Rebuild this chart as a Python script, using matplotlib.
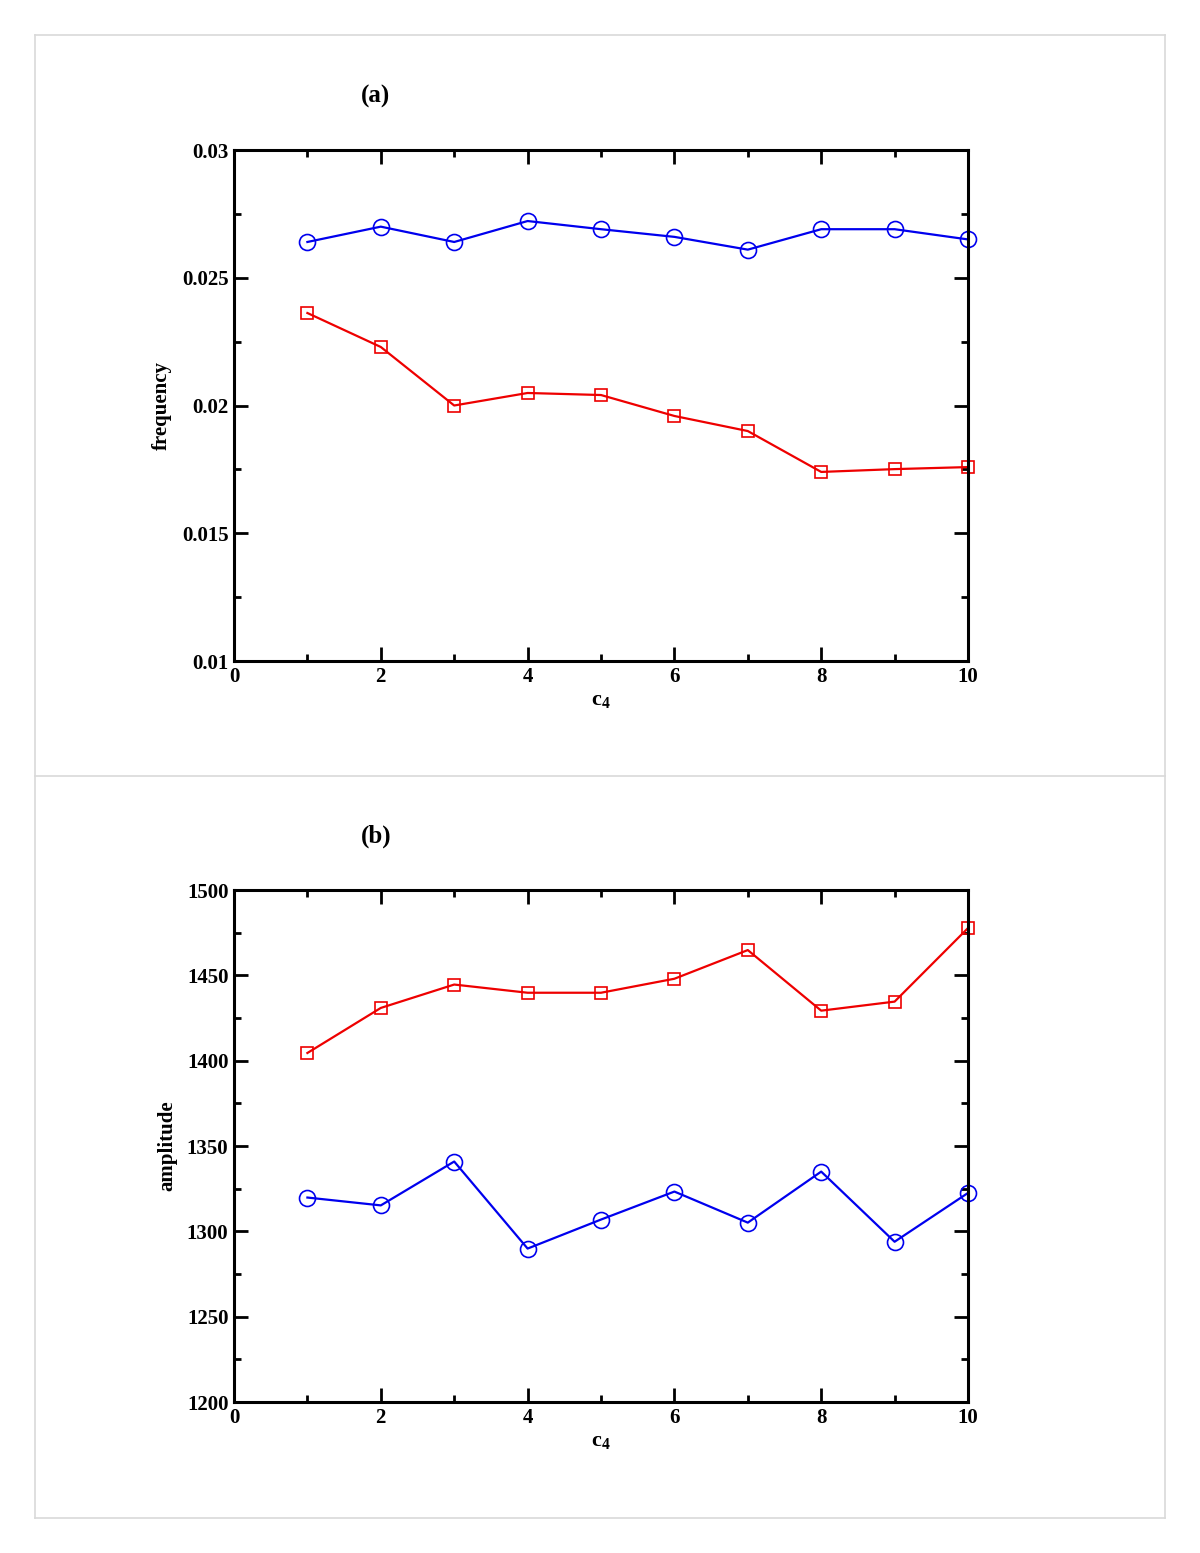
import numpy as np
import matplotlib
matplotlib.use("Agg")
import matplotlib.pyplot as plt
from matplotlib.lines import Line2D
from matplotlib.ticker import MultipleLocator

plt.rcParams['font.family'] = ['Liberation Serif', 'DejaVu Serif']
plt.rcParams['font.weight'] = 'bold'
plt.rcParams['mathtext.fontset'] = 'custom'
plt.rcParams['mathtext.rm'] = 'Liberation Serif:bold'
plt.rcParams['mathtext.it'] = 'Liberation Serif:bold'

c4 = [1, 2, 3, 4, 5, 6, 7, 8, 9, 10]

freq_blue = [0.0264, 0.0270, 0.0264, 0.02722, 0.0269, 0.0266, 0.0261, 0.0269, 0.0269, 0.0265]
freq_red = [0.02362, 0.02229, 0.0200, 0.02049, 0.02041, 0.01959, 0.0190, 0.0174, 0.01751, 0.01759]

amp_red = [1404.5, 1430.9, 1444.6, 1439.8, 1439.8, 1448.0, 1464.8, 1429.3, 1434.6, 1477.7]
amp_blue = [1319.8, 1315.2, 1340.9, 1289.9, 1306.9, 1323.3, 1305.1, 1335.0, 1293.9, 1322.5]

W, H = 1200, 1553
fig = plt.figure(figsize=(W / 100, H / 100), dpi=100)

# light grey frame around the two panels
grey = '#d9d9d9'
def fy(py):
    return 1 - py / H
for xs, ys in [([35, 1165], [35, 35]), ([35, 1165], [1518, 1518]),
               ([35, 35], [35, 1518]), ([1165, 1165], [35, 1518]),
               ([35, 1165], [776, 776])]:
    fig.add_artist(Line2D([x / W for x in xs], [fy(y) for y in ys],
                          color=grey, lw=1.2, transform=fig.transFigure))

left = 234 / W
width = (968 - 234) / W


def style_axes(ax, ylim, ymajor, yminor, fmt):
    ax.set_xlim(0, 10)
    ax.set_ylim(*ylim)
    ax.xaxis.set_major_locator(MultipleLocator(2))
    ax.xaxis.set_minor_locator(MultipleLocator(1))
    ax.yaxis.set_major_locator(MultipleLocator(ymajor))
    ax.yaxis.set_minor_locator(MultipleLocator(yminor))
    ax.yaxis.set_major_formatter(fmt)
    ax.tick_params(which='both', direction='in', top=True, right=True,
                   width=2, labelsize=15, pad=4)
    ax.tick_params(which='major', length=10)
    ax.tick_params(which='minor', length=5)
    for s in ax.spines.values():
        s.set_linewidth(2.2)
    for lab in ax.get_xticklabels() + ax.get_yticklabels():
        lab.set_fontweight('bold')
    ax.set_xlabel(r'$\mathrm{c_4}$', fontsize=16, labelpad=3)


def ffmt(v, pos):
    return ('%.3f' % v).rstrip('0').rstrip('.')


# panel (a)
ax1 = fig.add_axes([left, fy(661), width, (661 - 150) / H])
ax1.plot(c4, freq_blue, '-o', color='#0000ee', lw=1.6, ms=11.5, mfc='none', mew=1.2)
ax1.plot(c4, freq_red, '-s', color='#ee0000', lw=1.6, ms=9, mfc='none', mew=1.2)
style_axes(ax1, (0.01, 0.03), 0.005, 0.0025, plt.FuncFormatter(ffmt))
ax1.set_ylabel('frequency', fontsize=15, fontweight='bold', labelpad=7)
fig.text(376 / W, fy(96), '(a)', fontsize=18, fontweight='bold', ha='center', va='center')

# panel (b)
ax2 = fig.add_axes([left, fy(1402), width, (1402 - 890) / H])
ax2.plot(c4, amp_red, '-s', color='#ee0000', lw=1.6, ms=9, mfc='none', mew=1.2)
ax2.plot(c4, amp_blue, '-o', color='#0000ee', lw=1.6, ms=11.5, mfc='none', mew=1.2)
style_axes(ax2, (1200, 1500), 50, 25, plt.FuncFormatter(lambda v, p: '%d' % v))
ax2.set_ylabel('amplitude', fontsize=15, fontweight='bold', labelpad=7)
fig.text(376 / W, fy(836), '(b)', fontsize=18, fontweight='bold', ha='center', va='center')

for ax in (ax1, ax2):
    for line in ax.lines:
        line.set_clip_on(False)

fig.savefig('out.png', dpi=100, facecolor='white')
